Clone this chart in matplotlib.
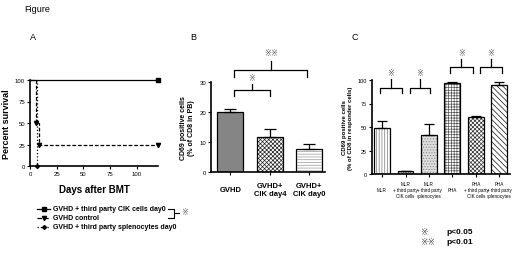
import matplotlib
matplotlib.use("Agg")
import matplotlib.pyplot as plt
import numpy as np

plt.rcParams['font.family'] = ['Liberation Sans', 'DejaVu Sans', 'Noto Sans CJK JP']
plt.rcParams['hatch.linewidth'] = 0.5

# ---- panel A : survival ----
cik_days = [0, 120]
cik_surv = [100, 100]
ctrl_days = [0, 6, 8, 120]
ctrl_surv = [100, 50, 25, 25]
spl_days = [0, 7]
spl_surv = [100, 0]
a_ticks = [0, 25, 50, 75, 100]
a_legend = ["GVHD + third party CIK cells day0",
            "GVHD control",
            "GVHD + third party splenocytes day0"]

# ---- panel B ----
b_labels = ["GVHD", "GVHD+\nCIK day4", "GVHD+\nCIK day0"]
b_vals = [19.9, 11.6, 7.7]
b_err = [1.0, 2.6, 1.7]
b_ticks = [0, 10, 20, 30]

# ---- panel C ----
c_labels = ["MLR", "MLR\n+ third party\nCIK cells", "MLR\n+ third party\nsplenocytes",
            "PHA", "PHA\n+ third party\nCIK cells", "PHA\n+ third party\nsplenocytes"]
c_vals = [48.6, 3.0, 41.5, 97.0, 61.0, 94.8]
c_err = [8.2, 0.6, 11.5, 0.6, 1.2, 2.8]
c_ticks = [0, 25, 50, 75, 100]

W, H = 520, 255
fig = plt.figure(figsize=(W / 100, H / 100), dpi=100)
ov = fig.add_axes([0, 0, 1, 1])
ov.set_xlim(0, W)
ov.set_ylim(H, 0)
ov.axis('off')


def px_axes(l, t, r, b):
    return fig.add_axes([l / W, 1 - b / H, (r - l) / W, (b - t) / H])


def style(ax, fs=4):
    for s in ['top', 'right']:
        ax.spines[s].set_visible(False)
    for s in ['left', 'bottom']:
        ax.spines[s].set_linewidth(1.2)
    ax.tick_params(width=0.8, length=2.5, labelsize=fs, pad=1)


# panel A
axA = px_axes(30, 81, 158, 167)
style(axA, 4.3)
axA.plot(cik_days, cik_surv, 'k-', lw=0.9, clip_on=False,
         marker='s', ms=3, markevery=[1])
axA.plot(ctrl_days, ctrl_surv, 'k--', lw=0.9, drawstyle='steps-post',
         clip_on=False, marker='v', ms=3, markevery=[1, 2, 3], dashes=(3, 1.5))
axA.plot(spl_days, spl_surv, 'k:', lw=0.9, drawstyle='steps-post',
         clip_on=False, marker='D', ms=2, markevery=[1])
axA.set_xlim(0, 120)
axA.set_ylim(0, 100)
axA.set_xticks(a_ticks)
axA.set_yticks(a_ticks)
axA.set_ylabel("Percent survival", fontsize=6.5, fontweight='bold', labelpad=3)
axA.set_xlabel("Days after BMT", fontsize=7, fontweight='bold', labelpad=6)

# legend A (manual)
styles = [('-', 's', 3), ('--', 'v', 3), (':', 'D', 2)]
for i, (lbl, (ls, mk, ms)) in enumerate(zip(a_legend, styles)):
    y = 209.5 + i * 9
    ov.plot([37, 50], [y, y], color='k', ls=ls, lw=0.9)
    ov.plot([43.5], [y], color='k', marker=mk, ms=ms)
    ov.text(53, y, lbl, fontsize=5.0, fontweight='bold', va='center', ha='left')
ov.plot([168, 174, 174, 168], [209.5, 209.5, 218.5, 218.5], color='k', lw=0.8)
ov.plot([174, 179], [214, 214], color='k', lw=0.8)
ov.text(181, 214, "※", fontsize=6, va='center', ha='left', color='#555555')

# panel B
axB = px_axes(211, 83.3, 325, 172.7)
style(axB, 4.3)
xb = np.arange(len(b_vals))
bw = 0.66
axB.bar(xb[0], b_vals[0], bw, color='#858585', edgecolor='k', lw=0.9)
axB.bar(xb[1], b_vals[1], bw, color='white', edgecolor='#222222', hatch='xxxxxxxx', lw=0)
axB.bar(xb[1], b_vals[1], bw, color='none', edgecolor='k', lw=0.9)
axB.bar(xb[2], b_vals[2], bw, color='white', edgecolor='#999999', hatch='------', lw=0)
axB.bar(xb[2], b_vals[2], bw, color='none', edgecolor='k', lw=0.9)
axB.errorbar(xb, b_vals, yerr=[np.zeros(len(b_err)), b_err], fmt='none',
             ecolor='k', elinewidth=0.9, capsize=4.3, capthick=0.9)
axB.set_xlim(-0.49, 2.4)
axB.set_ylim(0, 30)
axB.set_yticks(b_ticks)
axB.set_xticks(xb)
axB.set_xticklabels([])
for i, lbl in enumerate(b_labels):
    axB.annotate(lbl, xy=(xb[i], 0), xycoords=('data', 'axes fraction'),
                 xytext=(0, -17.5 * 0.72), textcoords='offset points',
                 ha='center', va='center', fontsize=5.5, fontweight='bold',
                 linespacing=1.15)
axB.set_ylabel("CD69 positive cells\n(% of CD8 in PB)", fontsize=5,
               fontweight='bold', labelpad=3, linespacing=1.3)


def bracket(ax, x0, x1, yh, yleg, ystem, ymark, mark, xc=None, fs=6):
    if xc is None:
        xc = (x0 + x1) / 2
    ax.plot([x0, x0, x1, x1], [yleg, yh, yh, yleg], color='k', lw=0.9, clip_on=False)
    ax.plot([xc, xc], [yh, ystem], color='k', lw=0.9, clip_on=False)
    ax.text(xc, ymark, mark, fontsize=fs, ha='center', va='center',
            color='#555555', clip_on=False)


bracket(axB, 0.1, 1.0, 27.5, 25.5, 29.4, 31.4, "※")
bracket(axB, 0.1, 1.95, 34.2, 31.8, 37.2, 39.6, "※※")

# panel C
axC = px_axes(371.7, 81, 510, 175)
style(axC, 4)
xc = np.arange(len(c_vals))
cw = 0.68
c_styles = [('white', '#777777', '||||||'),
            ('white', '#444444', 'xxxxxxx'),
            ('#dddddd', '#888888', '......'),
            ('white', '#555555', '++++++'),
            ('white', '#333333', 'xxxxxxxx'),
            ('white', '#111111', '\\\\\\\\\\\\')]
for i, (fc, hc, ht) in enumerate(c_styles):
    axC.bar(xc[i], c_vals[i], cw, color=fc, edgecolor=hc, hatch=ht, lw=0)
    axC.bar(xc[i], c_vals[i], cw, color='none', edgecolor='k', lw=0.9)
axC.errorbar(xc, c_vals, yerr=[np.zeros(len(c_err)), c_err], fmt='none',
             ecolor='k', elinewidth=0.9, capsize=3.3, capthick=0.9)
axC.set_xlim(-0.44, 5.45)
axC.set_ylim(0, 100)
axC.set_yticks(c_ticks)
axC.set_xticks(xc)
axC.set_xticklabels([])
for i, lbl in enumerate(c_labels):
    axC.annotate(lbl, xy=(xc[i], 0), xycoords=('data', 'axes fraction'),
                 xytext=(0, -15.7 * 0.72), textcoords='offset points',
                 ha='center', va='center', fontsize=3.3, linespacing=1.2)
axC.set_ylabel("CD69 positive cells\n(% of CD8 in responder cells)", fontsize=4.3,
               fontweight='bold', labelpad=3, linespacing=1.3)
bracket(axC, -0.08, 0.85, 92, 86, 101, 106.5, "※")
bracket(axC, 1.17, 2.06, 92, 86, 101, 106.5, "※")
bracket(axC, 2.9, 3.86, 113.5, 107.4, 122, 128, "※")
bracket(axC, 4.17, 5.1, 113.5, 107.4, 122, 128, "※")

# texts
ov.text(24, 9, "Figure", fontsize=6.5, va='center', ha='left')
ov.text(30, 38, "A", fontsize=6.5, va='center', ha='left')
ov.text(190, 38, "B", fontsize=6.5, va='center', ha='left')
ov.text(351, 38, "C", fontsize=6.5, va='center', ha='left')
ov.text(420, 233, "※", fontsize=6.5, va='center', ha='left', color='#444444')
ov.text(420, 243, "※※", fontsize=6.5, va='center', ha='left', color='#444444')
ov.text(446, 233, "p<0.05", fontsize=6, va='center', ha='left', fontweight='bold')
ov.text(446, 243, "p<0.01", fontsize=6, va='center', ha='left', fontweight='bold')

fig.savefig("out.png", dpi=100)
